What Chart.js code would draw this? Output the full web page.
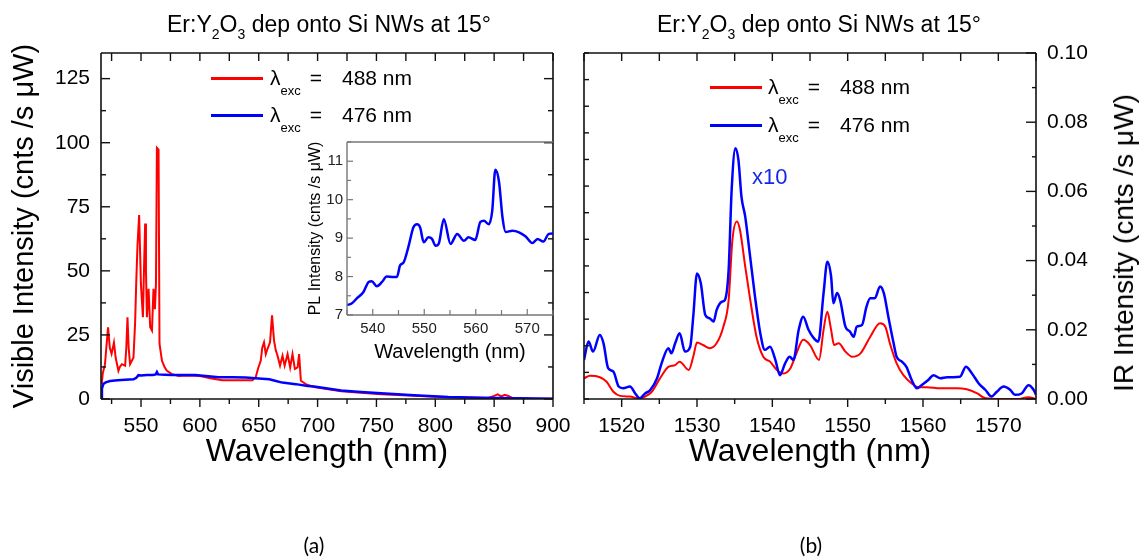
<!DOCTYPE html>
<html>
<head>
<meta charset="utf-8">
<script src="https://cdn.jsdelivr.net/npm/chart.js@4.4.1/dist/chart.umd.min.js"></script>
<style>
  html, body { margin: 0; padding: 0; background: #fff; }
  #page { position: relative; width: 1146px; height: 558px; overflow: hidden; background: #fff;
          font-family: 'Liberation Sans', Arial, sans-serif; color: #000; }
  canvas { position: absolute; }
  .txt { position: absolute; white-space: nowrap; line-height: 1; z-index: 5; }
  .ttl { font-size: 23px; transform: translateX(-50%); }
  .ttl sub { font-size: 14px; vertical-align: baseline; position: relative; top: 7px; }
  .leg { font-size: 21px; }
  .leg .s { font-size: 13px; position: relative; top: 10px; }
  .ln { position: absolute; height: 3px; width: 52px; z-index: 5; }
  .cap { font-family: Lato, 'Open Sans', sans-serif; font-size: 21px; transform: translateX(-50%); }
</style>
</head>
<body>
<div id="page">
  <canvas id="visChart" width="575" height="558" style="left:0;top:0"></canvas>
  <canvas id="irChart" width="571" height="558" style="left:575px;top:0"></canvas>
  <canvas id="insetChart" width="290" height="250" style="left:290px;top:120px"></canvas>

  <div class="txt ttl" style="left:329px;top:13px">Er:Y<sub>2</sub>O<sub>3</sub> dep onto Si NWs at 15°</div>
  <div class="txt ttl" style="left:819px;top:13px">Er:Y<sub>2</sub>O<sub>3</sub> dep onto Si NWs at 15°</div>

  <div class="ln" style="left:211px;top:77px;background:#ff0000"></div>
  <div class="txt leg" style="left:270px;top:67px">λ<span class="s">exc</span><span style="margin-left:9px">=</span><span style="margin-left:20px">488 nm</span></div>
  <div class="ln" style="left:211px;top:114px;background:#0000ff"></div>
  <div class="txt leg" style="left:270px;top:104px">λ<span class="s">exc</span><span style="margin-left:9px">=</span><span style="margin-left:20px">476 nm</span></div>

  <div class="ln" style="left:710px;top:86px;background:#ff0000"></div>
  <div class="txt leg" style="left:768px;top:76px">λ<span class="s">exc</span><span style="margin-left:9px">=</span><span style="margin-left:20px">488 nm</span></div>
  <div class="ln" style="left:710px;top:124px;background:#0000ff"></div>
  <div class="txt leg" style="left:768px;top:114px">λ<span class="s">exc</span><span style="margin-left:9px">=</span><span style="margin-left:20px">476 nm</span></div>

  <div class="txt" style="left:752px;top:166px;font-size:22px;color:#1428e6">x10</div>

  <div class="txt" style="left:1124px;top:243px;font-size:28px;transform:translate(-50%,-50%) rotate(-90deg)">IR Intensity (cnts /s μW)</div>

  <div class="txt cap" style="left:314px;top:534px">(a)</div>
  <div class="txt cap" style="left:811px;top:534px">(b)</div>
</div>

<script>
// ---- visible spectrum (panel a) ----
const visRedX = [516.6, 517.5, 519.4, 520.5, 522, 523.5, 525, 527, 528.5, 530.8, 532, 533.7, 536.5, 537.5, 538.5, 539.5, 540.7, 543.6,
  545, 545.9, 547, 548.4, 549.9, 550.8, 551.6, 552.5, 553.5, 554.2, 555, 556.4, 557.8, 559.3, 560.6, 561.8, 562.7, 563.5, 564.9,
  565.7, 567.8, 570, 572, 576.3, 582, 590, 600, 610, 619, 630, 644.6, 647.4, 649.5, 651.7, 653, 654.5, 656, 657.4, 659.6, 661.3,
  663, 664.5, 666, 668.1, 670.2, 672, 674.5, 676.7, 678.7, 680.7, 683, 684.3, 685.8, 690, 697, 720, 737, 754, 782, 800, 820, 845,
  850, 853, 856, 859, 862, 865, 880, 900];
const visRedY = [5.9, 10, 13.6, 20, 28, 20, 17.6, 22, 16, 11, 12.5, 13.6, 13, 20, 31.9, 20, 13.6, 16.2,
  30, 45, 60, 71.8, 45, 38, 31.9, 50, 68.5, 50, 31.9, 43, 28, 26.7, 43, 35, 45, 98, 97.3,
  21.6, 14.9, 12.5, 11, 9.7, 9, 9.2, 9, 8, 7.3, 7.3, 7.3, 8.4, 12, 14.9, 20, 22.1, 17.5, 19.5, 22.1, 32.6,
  22.8, 19, 16.9, 13, 16.9, 13, 17.5, 12.3, 17.5, 11.7, 12.3, 17.5, 7.1, 5.8, 4.7, 3.0, 2.4, 1.9, 1.3, 0.9, 0.6, 0.4,
  1.2, 1.8, 1.0, 1.6, 1.2, 0.5, 0.2, 0.05];

const visBlueX = [516, 516.8, 518, 520, 523.7, 530, 540, 543.6, 546, 547.8, 550, 555, 560, 562.5, 563.5, 564.5, 570, 576.3,
  585, 596, 605, 616, 628, 639, 650, 659, 663, 670, 681.5, 691.5, 697, 720, 737, 754, 782, 811, 839, 868, 900];
const visBlueY = [0.5, 4, 5.9, 6.5, 7, 7.3, 7.6, 7.7, 8.3, 9.3, 9.2, 9.4, 9.4, 9.6, 10.5, 9.6, 9.5, 9.4,
  9.4, 9.4, 9.0, 8.5, 8.5, 8.4, 8.0, 7.7, 7.2, 6.4, 5.8, 5.1, 4.9, 3.3, 2.7, 2.2, 1.5, 0.8, 0.5, 0.3, 0.1];

const visXTickVals = [525, 550, 575, 600, 625, 650, 675, 700, 725, 750, 775, 800, 825, 850, 875, 900];
const visXLabels = [550, 600, 650, 700, 750, 800, 850, 900];
const visYTickVals = [0, 12.5, 25, 37.5, 50, 62.5, 75, 87.5, 100, 112.5, 125];
const visYLabels = [0, 25, 50, 75, 100, 125];

// ---- inset (panel a) ----
const insetX = [535, 535.9, 536.9, 538.2, 539.2, 539.8, 540.8, 541.8, 542.7, 544, 544.7, 545.3, 546, 546.9, 547.9, 548.6, 549.2,
  549.9, 550.8, 551.5, 552.2, 552.8, 553.8, 555.1, 556.4, 557.7, 558.6, 559.9, 560.9, 561.6, 562.5, 563.2, 563.8, 564.5, 565.2,
  565.8, 567.1, 568.4, 569.7, 571, 572, 573.1, 574.2, 575];
const insetY = [7.26, 7.3, 7.43, 7.6, 7.86, 7.88, 7.75, 7.86, 8.0, 7.99, 7.99, 8.29, 8.37, 8.76, 9.28, 9.36, 9.28,
  8.89, 9.02, 8.98, 8.8, 8.85, 9.49, 8.85, 9.11, 8.93, 9.02, 8.95, 9.42, 9.45, 9.36, 9.71, 10.78, 10.48, 9.53,
  9.16, 9.19, 9.15, 9.04, 8.87, 8.98, 8.91, 9.11, 9.12];
const insetXTickVals = [535, 540, 545, 550, 555, 560, 565, 570, 575];
const insetXLabels = [540, 550, 560, 570];
const insetYTickVals = [7, 7.5, 8, 8.5, 9, 9.5, 10, 10.5, 11, 11.5];
const insetYLabels = [7, 8, 9, 10, 11];

// ---- IR spectrum (panel b) ----
const irBlueX = [1515, 1515.6, 1516.2, 1517.1, 1517.6, 1518.2, 1518.9, 1519.6, 1520.2, 1521.1, 1521.8, 1522.4, 1523.1, 1523.8,
  1524.7, 1525.3, 1526.2, 1526.6, 1527.1, 1527.7, 1528.4, 1529.1, 1529.5, 1530, 1530.5, 1531.1, 1531.7, 1532.2, 1532.6, 1533.3,
  1533.7, 1534.2, 1534.6, 1535.1, 1535.5, 1535.9, 1536.4, 1537, 1537.7, 1538.4, 1539, 1539.7, 1540.4, 1541, 1541.7, 1542.3,
  1542.8, 1543.5, 1544.1, 1544.8, 1545.5, 1546.1, 1546.8, 1547.3, 1547.8, 1548.1, 1548.6, 1549, 1549.7, 1550.3, 1550.8, 1551.2,
  1551.9, 1552.5, 1553, 1553.6, 1554.3, 1554.8, 1555.4, 1556.1, 1556.5, 1557.2, 1557.8, 1558.5, 1559.2, 1559.8, 1560.7, 1561.4,
  1562.3, 1563.2, 1564, 1564.9, 1565.7, 1566.5, 1567.4, 1568.3, 1569.1, 1569.8, 1570.7, 1571.6, 1572.2, 1573.1, 1574, 1574.7, 1575];
const irBlueY = [0.0113, 0.0166, 0.0137, 0.0185, 0.016, 0.0089, 0.0079, 0.0036, 0.0031, 0.0036, 0.0016, 0.0002, 0.0016, 0.0026,
  0.006, 0.0103, 0.0147, 0.0132, 0.0161, 0.019, 0.0137, 0.0151, 0.0238, 0.0363, 0.0335, 0.0243, 0.0233, 0.0224, 0.0257, 0.0281,
  0.0286, 0.0373, 0.0604, 0.0725, 0.0691, 0.0585, 0.0527, 0.0421, 0.0296, 0.019, 0.0142, 0.0151, 0.0113, 0.0069, 0.0103, 0.0122,
  0.0113, 0.02, 0.0238, 0.02, 0.0176, 0.0166, 0.0306, 0.0397, 0.0354, 0.0277, 0.0306, 0.0286, 0.0209, 0.0195, 0.018, 0.0209,
  0.0214, 0.0267, 0.0291, 0.0291, 0.0325, 0.0306, 0.0238, 0.0161, 0.0122, 0.0108, 0.0093, 0.0055, 0.0031, 0.004, 0.0055, 0.0069,
  0.006, 0.0063, 0.0063, 0.0064, 0.0093, 0.0074, 0.0045, 0.0026, 0.0007, 0.0021, 0.0036, 0.0026, 0.0012, 0.0016, 0.004, 0.0026, 0.0012];

const irRedX = [1515, 1515.8, 1517.1, 1518, 1518.9, 1519.8, 1521.1, 1522.2, 1523.1, 1524, 1525.1, 1526.2, 1527.1, 1527.7,
  1528.9, 1529.5, 1530, 1530.8, 1531.7, 1532.6, 1533.5, 1534.2, 1534.7, 1535.3, 1535.7, 1536.4, 1537, 1537.9, 1538.8, 1539.7,
  1540.6, 1541.5, 1542.4, 1543.2, 1544.1, 1545, 1546.2, 1546.8, 1547.3, 1547.8, 1548.2, 1548.8, 1549.7, 1550.6, 1551.7, 1553,
  1554.3, 1555, 1555.6, 1556.5, 1557.4, 1558.5, 1559.4, 1560.5, 1562.3, 1564.5, 1565.8, 1567.2, 1568.3, 1570.3, 1572.5, 1574, 1575];
const irRedY = [0.006, 0.0067, 0.0063, 0.005, 0.0021, 0.0009, 0.0007, 0.0002, 0.0007, 0.0021, 0.006, 0.0093, 0.0098, 0.0108,
  0.0084, 0.0122, 0.0163, 0.0156, 0.0147, 0.0161, 0.0209, 0.0286, 0.046, 0.0513, 0.0489, 0.0383, 0.0296, 0.018, 0.0122, 0.0108,
  0.0084, 0.0074, 0.0089, 0.0132, 0.0171, 0.0156, 0.0113, 0.02, 0.0252, 0.02, 0.0156, 0.0161, 0.0137, 0.0122, 0.0132, 0.018,
  0.0219, 0.0209, 0.0161, 0.0103, 0.0069, 0.0045, 0.0034, 0.0034, 0.0031, 0.0031, 0.0028, 0.0016, 0.0002, 0, 0, 0.0005, 0];

const irXTickVals = [1515, 1520, 1525, 1530, 1535, 1540, 1545, 1550, 1555, 1560, 1565, 1570, 1575];
const irXLabels = [1520, 1530, 1540, 1550, 1560, 1570];
const irYTickVals = [0, 0.01, 0.02, 0.03, 0.04, 0.05, 0.06, 0.07, 0.08, 0.09, 0.10];
const irYLabels = ['0.00', '0.02', '0.04', '0.06', '0.08', '0.10'];
const irLeftTickVals = [0, 1, 2, 3, 4, 5, 6, 7, 8, 9, 10, 11, 12, 13];

const RED = 'rgb(255,0,0)';
const BLUE = 'rgb(0,0,255)';

Chart.defaults.font.family = "'Liberation Sans', Arial, sans-serif";
Chart.defaults.color = '#000';

const pts = (xs, ys) => xs.map((x, i) => ({ x: x, y: ys[i] }));
const near = (v, list) => list.some(l => Math.abs(Number(l) - v) < 1e-6);

// frame + tick marks, drawn from the chart's own scales
const framePlugin = {
  id: 'frame',
  afterDraw(chart, args, o) {
    const ctx = chart.ctx, a = chart.chartArea;
    ctx.save();
    ctx.strokeStyle = o.color;
    ctx.lineWidth = o.tickWidth;
    o.sides.forEach(s => {
      const sc = chart.scales[s.scale];
      s.values.forEach(v => {
        const p = sc.getPixelForValue(v);
        const len = (s.majors && near(v, s.majors)) ? s.long : s.short;
        ctx.beginPath();
        if (s.edge === 'top' || s.edge === 'bottom') {
          ctx.moveTo(p, a[s.edge]); ctx.lineTo(p, a[s.edge] + s.dir * len);
        } else {
          ctx.moveTo(a[s.edge], p); ctx.lineTo(a[s.edge] + s.dir * len, p);
        }
        ctx.stroke();
      });
    });
    ctx.lineWidth = o.lineWidth;
    ctx.beginPath();
    if (o.edges.includes('top')) { ctx.moveTo(a.left, a.top); ctx.lineTo(a.right, a.top); }
    if (o.edges.includes('bottom')) { ctx.moveTo(a.left, a.bottom); ctx.lineTo(a.right, a.bottom); }
    if (o.edges.includes('left')) { ctx.moveTo(a.left, a.top); ctx.lineTo(a.left, a.bottom); }
    if (o.edges.includes('right')) { ctx.moveTo(a.right, a.top); ctx.lineTo(a.right, a.bottom); }
    ctx.stroke();
    ctx.restore();
  }
};

const fixWidth = w => s => { s.width = w; s.paddingTop = 0; s.paddingBottom = 0; };
const fixHeight = h => s => { s.height = h; s.paddingLeft = 0; s.paddingRight = 0; };
const setTicks = vals => s => { s.ticks = vals.map(v => ({ value: v })); };
// no grid, no tick marks from Chart.js itself (the plugin draws them)
const noLines = { grid: { display: false, drawTicks: false }, border: { display: false } };

// 1. PANEL (a) visible
new Chart(document.getElementById('visChart'), {
  type: 'line',
  data: {
    datasets: [
      { data: pts(visBlueX, visBlueY), borderColor: BLUE, borderWidth: 2.5, pointRadius: 0, tension: 0 },
      { data: pts(visRedX, visRedY), borderColor: RED, borderWidth: 2, pointRadius: 0, tension: 0 }
    ]
  },
  options: {
    responsive: false, animation: false, parsing: false,
    layout: { padding: { top: 53, right: 22, left: 0, bottom: 0 } },
    plugins: {
      legend: { display: false }, tooltip: { enabled: false },
      frame: {
        color: '#111', tickWidth: 1.4, lineWidth: 1.6, edges: ['top', 'bottom', 'left', 'right'],
        sides: [
          { scale: 'x', edge: 'bottom', dir: 1, values: visXTickVals, majors: visXLabels, long: 8, short: 5 },
          { scale: 'x', edge: 'top', dir: 1, values: visXTickVals, long: 8, short: 8 },
          { scale: 'y', edge: 'left', dir: 1, values: visYTickVals, majors: visYLabels, long: 9, short: 5 },
          { scale: 'y', edge: 'right', dir: -1, values: visYTickVals, majors: visYLabels, long: 9, short: 5 }
        ]
      }
    },
    scales: {
      x: {
        type: 'linear', min: 516, max: 900, ...noLines,
        afterBuildTicks: setTicks(visXTickVals), afterFit: fixHeight(159),
        ticks: { autoSkip: false, maxRotation: 0, padding: 15, font: { size: 21 },
                 callback: v => near(v, visXLabels) ? String(v) : '' },
        title: { display: true, text: 'Wavelength (nm)', font: { size: 32 }, padding: { top: 0, bottom: 87 } }
      },
      y: {
        min: 0, max: 135, ...noLines,
        afterBuildTicks: setTicks(visYTickVals), afterFit: fixWidth(101),
        ticks: { autoSkip: false, padding: 11, font: { size: 21 },
                 callback: v => near(v, visYLabels) ? String(v) : '' },
        title: { display: true, text: 'Visible Intensity (cnts /s μW)', font: { size: 29 }, padding: { top: 8, bottom: 0 } }
      }
    }
  },
  plugins: [framePlugin]
});

// 2. INSET
new Chart(document.getElementById('insetChart'), {
  type: 'line',
  data: {
    datasets: [
      { data: pts(insetX, insetY), borderColor: BLUE, borderWidth: 2.5, pointRadius: 0, cubicInterpolationMode: 'monotone' }
    ]
  },
  options: {
    responsive: false, animation: false, parsing: false,
    layout: { padding: { top: 22, right: 27, left: 0, bottom: 0 } },
    plugins: {
      legend: { display: false }, tooltip: { enabled: false },
      frame: {
        color: '#777', tickWidth: 1.2, lineWidth: 1.4, edges: ['top', 'bottom', 'left'],
        sides: [
          { scale: 'x', edge: 'bottom', dir: -1, values: insetXTickVals, majors: insetXLabels, long: 6, short: 5 },
          { scale: 'y', edge: 'left', dir: 1, values: insetYTickVals, majors: insetYLabels, long: 6, short: 4 }
        ]
      }
    },
    scales: {
      x: {
        type: 'linear', min: 535, max: 575, ...noLines,
        afterBuildTicks: setTicks(insetXTickVals), afterFit: fixHeight(55),
        ticks: { autoSkip: false, maxRotation: 0, padding: 5, font: { size: 15 }, color: '#222',
                 callback: v => near(v, insetXLabels) ? String(v) : '' },
        title: { display: true, text: 'Wavelength (nm)', font: { size: 20 }, padding: { top: 0, bottom: 6 } }
      },
      y: {
        min: 7, max: 11.5, ...noLines,
        afterBuildTicks: setTicks(insetYTickVals), afterFit: fixWidth(57),
        ticks: { autoSkip: false, padding: 4, font: { size: 15 }, color: '#222',
                 callback: v => near(v, insetYLabels) ? String(v) : '' },
        title: { display: true, text: 'PL Intensity (cnts /s μW)', font: { size: 16 }, padding: { top: 16, bottom: 0 } }
      }
    }
  },
  plugins: [framePlugin]
});

// 3. PANEL (b) infrared
new Chart(document.getElementById('irChart'), {
  type: 'line',
  data: {
    datasets: [
      { data: pts(irBlueX, irBlueY), yAxisID: 'y', borderColor: BLUE, borderWidth: 2.5, pointRadius: 0, cubicInterpolationMode: 'monotone' },
      { data: pts(irRedX, irRedY), yAxisID: 'y', borderColor: RED, borderWidth: 2, pointRadius: 0, cubicInterpolationMode: 'monotone' }
    ]
  },
  options: {
    responsive: false, animation: false, parsing: false,
    layout: { padding: { top: 53, right: 0, left: 0, bottom: 0 } },
    plugins: {
      legend: { display: false }, tooltip: { enabled: false },
      frame: {
        color: '#111', tickWidth: 1.4, lineWidth: 1.6, edges: ['top', 'bottom', 'left', 'right'],
        sides: [
          { scale: 'x', edge: 'bottom', dir: 1, values: irXTickVals, majors: irXLabels, long: 8, short: 5 },
          { scale: 'x', edge: 'top', dir: 1, values: irXTickVals, long: 8, short: 8 },
          { scale: 'yl', edge: 'left', dir: 1, values: irLeftTickVals, long: 5, short: 5 },
          { scale: 'y', edge: 'right', dir: -1, values: irYTickVals, majors: irYLabels, long: 10, short: 4 }
        ]
      }
    },
    scales: {
      x: {
        type: 'linear', min: 1515, max: 1575, ...noLines,
        afterBuildTicks: setTicks(irXTickVals), afterFit: fixHeight(159),
        ticks: { autoSkip: false, maxRotation: 0, padding: 15, font: { size: 21 },
                 callback: v => near(v, irXLabels) ? String(v) : '' },
        title: { display: true, text: 'Wavelength (nm)', font: { size: 32 }, padding: { top: 0, bottom: 87 } }
      },
      yl: {
        position: 'left', min: 0, max: 13, ...noLines,
        afterBuildTicks: setTicks(irLeftTickVals), afterFit: fixWidth(9),
        ticks: { display: false }
      },
      y: {
        position: 'right', min: 0, max: 0.1, ...noLines,
        afterBuildTicks: setTicks(irYTickVals), afterFit: fixWidth(110),
        ticks: { autoSkip: false, padding: 11, font: { size: 21 },
                 callback: v => near(v, irYLabels) ? v.toFixed(2) : '' }
      }
    }
  },
  plugins: [framePlugin]
});
</script>
</body>
</html>
